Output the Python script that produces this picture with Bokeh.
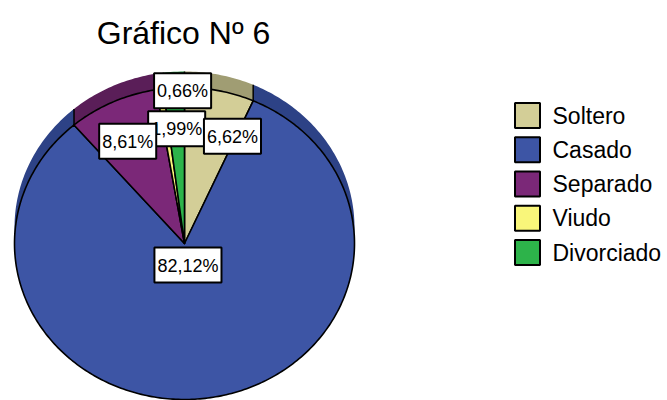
import numpy as np
from bokeh.plotting import figure
from bokeh.models import ColumnDataSource, Range1d
from bokeh.core.properties import value
from bokeh.embed import file_html
from bokeh.resources import INLINE

# ---------------- data ----------------
title_text = "Gráfico Nº 6"
categories = ["Soltero", "Casado", "Separado", "Viudo", "Divorciado"]
percentages = [6.62, 82.12, 8.61, 0.66, 1.99]
pct_labels = ["6,62%", "82,12%", "8,61%", "0,66%", "1,99%"]

# ---------------- styles / layout ----------------
face_colors = ["#D3CE97", "#3D55A5", "#7B2878", "#F9F67A", "#2DB34A"]
rim_colors = ["#A09D73", "#2D4286", "#5A1E58", "#BAB75C", "#22873A"]
label_radius = [0.743, 0.14, 0.735, 0.98, 0.737]     # fraction of radius
label_shift_deg = [10.4, 0.0, -2.0, 7.7, 0.0]        # clockwise shift from mid angle
label_draw_order = [4, 0, 1, 2, 3]

W, H = 667, 400
RX, RY = 170.0, 156.0      # px per data unit
CX, CY = 184.0, 243.0      # page position of pie centre
DEPTH = 16.0 / RY          # visible thickness of the pie

def X(px):
    return (px - CX) / RX

def Y(py):
    return (CY - py) / RY

p = figure(width=W, height=H, title=None,
           x_range=Range1d(X(0), X(W)), y_range=Range1d(Y(H), Y(0)),
           output_backend="svg", toolbar_location=None, min_border=0)
p.axis.visible = False
p.grid.visible = False
p.outline_line_color = None
p.background_fill_color = "white"

# ---------------- slices ----------------
frac = np.array(percentages) / np.sum(percentages)
cum = np.concatenate([[0.0], np.cumsum(frac)])
start = np.pi / 2 - 2 * np.pi * cum[:-1]
end = np.pi / 2 - 2 * np.pi * cum[1:]

side_xs, side_ys, face_xs, face_ys = [], [], [], []
for a0, a1 in zip(start, end):
    n = max(3, int(abs(a0 - a1) / (2 * np.pi) * 400))
    t = np.linspace(a0, a1, n)
    ax, ay = np.cos(t), np.sin(t)
    side_xs.append(list(np.concatenate([ax, ax[::-1]])))
    side_ys.append(list(np.concatenate([ay, (ay + DEPTH)[::-1]])))
    face_xs.append(list(np.concatenate([[0.0], ax])))
    face_ys.append(list(np.concatenate([[0.0], ay])))

# rim (side of the 3-D pie)
p.patches(side_xs, side_ys, fill_color=rim_colors, line_color=None)
bx, by = np.cos(start), np.sin(start)
vis = by > 0
p.segment(bx[vis], by[vis], bx[vis], by[vis] + DEPTH, line_color="black", line_width=1.5)
# faces
p.patches(face_xs, face_ys, fill_color=face_colors, line_color="black",
          line_width=1.6, line_join="round")

# ---------------- percentage labels ----------------
mid = (start + end) / 2 - np.radians(label_shift_deg)
lx = np.array(label_radius) * np.cos(mid)
ly = np.array(label_radius) * np.sin(mid)
order = label_draw_order
lsrc = ColumnDataSource(dict(x=lx[order], y=ly[order], text=[pct_labels[i] for i in order]))
p.text("x", "y", text="text", source=lsrc, text_align="center", text_baseline="middle",
       text_font=value("Liberation Sans"), text_font_size=value("18px"), text_color="black",
       background_fill_color="white", border_line_color="black", border_line_width=2,
       padding=dict(left=3, right=3, top=8, bottom=7))

# ---------------- title ----------------
p.text([X(183)], [Y(32)], text=[title_text], text_align="center", text_baseline="alphabetic",
       text_font=value("Liberation Sans"), text_font_size=value("32px"), text_color="black")

# ---------------- legend ----------------
rows = np.arange(len(categories))
leg_y = [Y(115 + 34.25 * i) for i in rows]
p.scatter([X(527)] * len(rows), leg_y, marker="square", size=25,
          fill_color=face_colors, line_color="black", line_width=2)
p.text([X(552)] * len(rows), leg_y, text=categories, text_align="left", text_baseline="middle",
       text_font=value("Liberation Sans"), text_font_size=value("23px"), text_color="black")

open("out.html", "w").write(file_html(p, INLINE))
